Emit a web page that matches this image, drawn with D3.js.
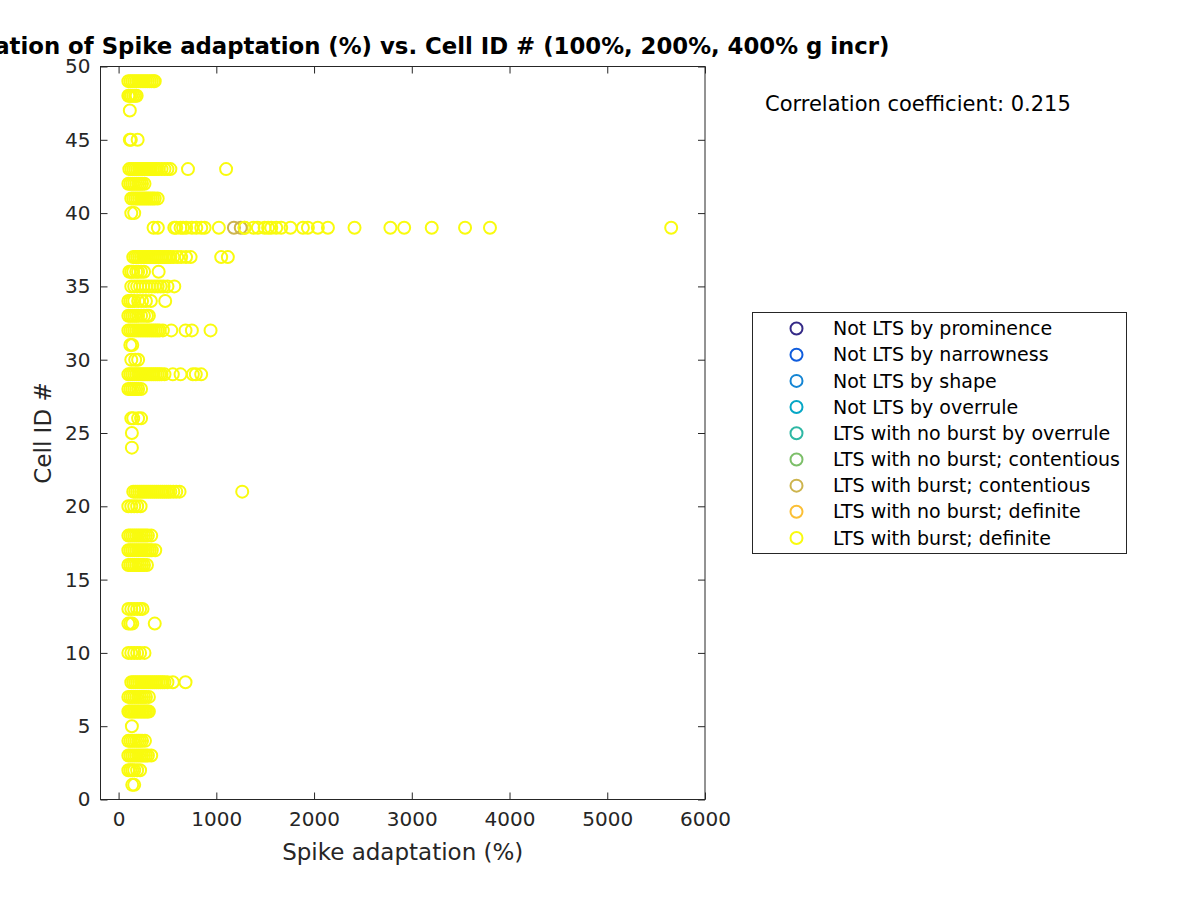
<!DOCTYPE html>
<html>
<head>
<meta charset="utf-8">
<script src="https://cdn.jsdelivr.net/npm/d3@7/dist/d3.min.js"></script>
<style>
  html, body { margin: 0; padding: 0; background: #fff; }
  svg { display: block; font-family: "DejaVu Sans", sans-serif; }
</style>
</head>
<body>
<div id="chart"></div>
<script>
// ---- Data ----
const titleText = "Correlation of Spike adaptation (%) vs. Cell ID # (100%, 200%, 400% g incr)";
const xLabel = "Spike adaptation (%)";
const yLabel = "Cell ID #";
const corrText = "Correlation coefficient: 0.215";

const xTicks = [0, 1000, 2000, 3000, 4000, 5000, 6000];
const yTicks = [0, 5, 10, 15, 20, 25, 30, 35, 40, 45, 50];

const legendLabels = [
  "Not LTS by prominence",
  "Not LTS by narrowness",
  "Not LTS by shape",
  "Not LTS by overrule",
  "LTS with no burst by overrule",
  "LTS with no burst; contentious",
  "LTS with burst; contentious",
  "LTS with no burst; definite",
  "LTS with burst; definite"
];
const legendColors = ["#352a87", "#0f5cdd", "#1485d4", "#06a7c6", "#2eb7a4", "#7cbf69", "#cdb44d", "#fbbf35", "#f9fb0e"];

// Cell IDs and spike adaptation values (%) for "LTS with burst; definite"
const cellIds = [49, 48, 47, 45, 43, 42, 41, 40, 39, 37, 36, 35, 34, 33, 32, 31, 30, 29, 28, 26, 25, 24, 21, 20, 18, 17, 16, 13, 12, 10, 8, 7, 6, 5, 4, 3, 2, 1];
const adaptation = [
  [100, 120, 140, 160, 180, 200, 220, 240, 260, 280, 300, 320, 340, 360, 370],
  [100, 115, 130, 150, 170, 185],
  [115],
  [115, 125, 195],
  [110, 130, 150, 170, 190, 210, 230, 250, 270, 290, 310, 330, 350, 370, 390, 410, 440, 470, 500, 530, 710, 1100],
  [100, 120, 140, 160, 180, 200, 220, 240, 265],
  [130, 150, 170, 190, 210, 230, 250, 270, 290, 310, 330, 350, 370, 400],
  [130, 160],
  [358, 402, 570, 590, 634, 660, 692, 750, 795, 846, 880, 1026, 1289, 1380, 1425, 1494, 1530, 1562, 1613, 1664, 1759, 1886, 1937, 2039, 2142, 2414, 2781, 2922, 3204, 3545, 3800, 5654],
  [150, 170, 190, 210, 230, 250, 270, 290, 310, 330, 350, 370, 390, 410, 430, 450, 470, 490, 510, 530, 560, 600, 640, 690, 737, 1050, 1118],
  [110, 130, 150, 180, 200, 230, 260, 410],
  [130, 160, 190, 220, 250, 280, 310, 340, 370, 400, 430, 460, 500, 570],
  [100, 120, 140, 160, 200, 240, 280, 330, 477],
  [100, 120, 140, 160, 180, 200, 230, 260, 290, 310],
  [100, 120, 140, 160, 180, 200, 220, 240, 260, 280, 300, 320, 340, 360, 380, 400, 420, 453, 539, 685, 750, 941],
  [120, 140],
  [130, 170, 200],
  [100, 120, 140, 160, 180, 200, 220, 240, 260, 280, 300, 320, 340, 360, 380, 400, 420, 440, 470, 555, 634, 760, 790, 845],
  [100, 120, 140, 160, 180, 200, 230],
  [130, 150, 200, 230],
  [136],
  [136],
  [150, 170, 190, 210, 230, 250, 270, 290, 310, 330, 350, 370, 390, 410, 430, 450, 470, 490, 510, 530, 560, 590, 624, 1265],
  [100, 130, 160, 190, 225],
  [100, 120, 140, 160, 180, 200, 220, 240, 260, 280, 300, 334],
  [100, 120, 140, 160, 180, 200, 220, 240, 260, 280, 300, 320, 340, 375],
  [100, 120, 140, 160, 180, 200, 220, 240, 260, 290],
  [100, 130, 160, 190, 220, 245],
  [100, 120, 140, 370],
  [100, 130, 160, 190, 220, 265],
  [130, 150, 170, 190, 210, 230, 250, 270, 290, 310, 330, 350, 370, 390, 410, 430, 450, 470, 500, 555, 685],
  [100, 120, 140, 160, 180, 200, 220, 240, 260, 280, 310],
  [100, 115, 130, 145, 160, 175, 190, 205, 220, 235, 250, 265, 280, 295, 310],
  [136],
  [100, 120, 140, 160, 180, 200, 220, 240, 270],
  [100, 120, 140, 160, 180, 200, 220, 240, 260, 280, 300, 334],
  [100, 120, 140, 160, 190, 220],
  [140, 160]
];

// "LTS with burst; contentious" points
const contentiousIds = [39, 39];
const contentiousAdapt = [1180, 1250];

// ---- Layout ----
const W = 1200, H = 900;
const box = { left: 100.5, right: 705, top: 66.5, bottom: 799.5 };
const axisColor = "#262626";

const svg = d3.select("#chart").append("svg")
  .attr("width", W).attr("height", H)
  .attr("viewBox", `0 0 ${W} ${H}`);

svg.append("rect").attr("width", W).attr("height", H).attr("fill", "#fff");

const x = d3.scaleLinear().domain([-185, 6000]).range([box.left, box.right]);
const y = d3.scaleLinear().domain([0, 50]).range([box.bottom, box.top]);

const tickLen = 7;
const R = 6, SW = 2;

svg.append("rect")
  .attr("x", box.left).attr("y", box.top)
  .attr("width", box.right - box.left).attr("height", box.bottom - box.top)
  .attr("fill", "#fff");

// Title (drawn early so axis labels sit above it)
const cx = (box.left + box.right) / 2;
const cy = (box.top + box.bottom) / 2;
svg.append("text").attr("x", cx).attr("y", 54)
  .attr("text-anchor", "middle").attr("fill", "#000")
  .style("font-size", "22.8px").style("font-weight", "bold").text(titleText);

// Points
const pointsG = svg.append("g");
const pts = [];
cellIds.forEach((id, i) => adaptation[i].forEach(v => pts.push({ id, v })));
pointsG.selectAll("circle.def").data(pts).join("circle")
  .attr("class", "def")
  .attr("cx", d => x(d.v)).attr("cy", d => y(d.id))
  .attr("r", R)
  .attr("fill", "none")
  .attr("stroke", legendColors[8])
  .attr("stroke-width", SW);

pointsG.selectAll("circle.cont").data(contentiousIds.map((id, i) => ({ id, v: contentiousAdapt[i] }))).join("circle")
  .attr("class", "cont")
  .attr("cx", d => x(d.v)).attr("cy", d => y(d.id))
  .attr("r", R)
  .attr("fill", "none")
  .attr("stroke", legendColors[6])
  .attr("stroke-width", SW);
pointsG.selectAll("circle.def2").data([{ id: 39, v: 1289 }]).join("circle")
  .attr("cx", d => x(d.v)).attr("cy", d => y(d.id))
  .attr("r", R).attr("fill", "none")
  .attr("stroke", legendColors[8]).attr("stroke-width", SW);

// Axes
const fmt = d3.format("d");
const xAxisB = d3.axisBottom(x).tickValues(xTicks).tickFormat(fmt).tickSizeInner(-tickLen).tickSizeOuter(0).tickPadding(12);
const xAxisT = d3.axisTop(x).tickValues(xTicks).tickSizeInner(-tickLen).tickSizeOuter(0).tickFormat("");
const yAxisL = d3.axisLeft(y).tickValues(yTicks).tickFormat(fmt).tickSizeInner(-tickLen).tickSizeOuter(0).tickPadding(10);
const yAxisR = d3.axisRight(y).tickValues(yTicks).tickSizeInner(-tickLen).tickSizeOuter(0).tickFormat("");

function styleAxis(g) {
  g.select(".domain").remove();
  g.selectAll(".tick line").attr("stroke", axisColor).attr("stroke-width", 1);
  g.selectAll(".tick text").attr("fill", axisColor).style("font-size", "20px").style("font-family", "DejaVu Sans, sans-serif");
}

svg.append("g").attr("transform", `translate(0,${box.bottom})`).call(xAxisB).call(styleAxis);
svg.append("g").attr("transform", `translate(0,${box.top})`).call(xAxisT).call(styleAxis);
svg.append("g").attr("transform", `translate(${box.left},0)`).call(yAxisL).call(styleAxis);
svg.append("g").attr("transform", `translate(${box.right},0)`).call(yAxisR).call(styleAxis);

svg.append("rect")
  .attr("x", box.left).attr("y", box.top)
  .attr("width", box.right - box.left).attr("height", box.bottom - box.top)
  .attr("fill", "none").attr("stroke", axisColor).attr("stroke-width", 1);

// Axis labels
svg.append("text").attr("x", cx).attr("y", 860)
  .attr("text-anchor", "middle").attr("fill", axisColor)
  .style("font-size", "23px").text(xLabel);
svg.append("text").attr("transform", `translate(51,${cy}) rotate(-90)`)
  .attr("text-anchor", "middle").attr("fill", axisColor)
  .style("font-size", "23px").text(yLabel);

svg.append("text").attr("x", 765).attr("y", 111)
  .attr("fill", "#000").style("font-size", "21px").text(corrText);

// Legend
const lg = { left: 752.5, top: 312.5, width: 374, height: 241 };
svg.append("rect").attr("x", lg.left).attr("y", lg.top)
  .attr("width", lg.width).attr("height", lg.height)
  .attr("fill", "#fff").attr("stroke", axisColor).attr("stroke-width", 1);
const rowY = d3.scaleLinear().domain([0, legendLabels.length - 1]).range([328.5, 538]);
const items = svg.append("g").selectAll("g").data(legendLabels).join("g")
  .attr("transform", (d, i) => `translate(0,${rowY(i)})`);
items.append("circle").attr("cx", 796.5).attr("cy", 0).attr("r", R)
  .attr("fill", "none").attr("stroke", (d, i) => legendColors[i]).attr("stroke-width", SW);
items.append("text").attr("x", 833).attr("y", 0).attr("dy", "0.35em")
  .attr("fill", "#000").style("font-size", "19px").text(d => d);
</script>
</body>
</html>
